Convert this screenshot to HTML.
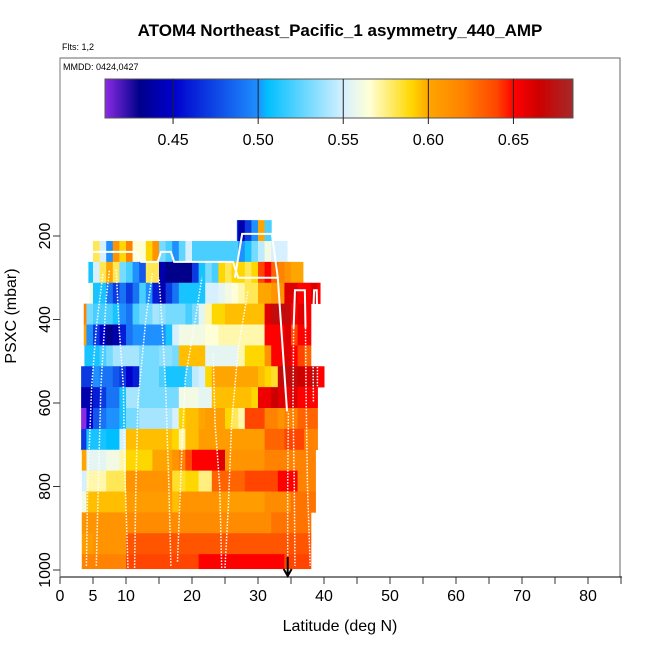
<!DOCTYPE html>
<html><head><meta charset="utf-8"><style>
body{margin:0;background:#fff}
svg{display:block;font-family:"Liberation Sans",sans-serif}
</style></head><body>
<svg id="chart" width="650" height="650" viewBox="0 0 650 650" xmlns="http://www.w3.org/2000/svg">
<text x="340" y="36" text-anchor="middle" font-size="17" font-weight="bold">ATOM4 Northeast_Pacific_1 asymmetry_440_AMP</text>
<text x="62" y="50" font-size="9">Flts: 1,2</text>
<rect x="60" y="58" width="560" height="519" fill="none" stroke="#666" stroke-width="1"/>
<text x="63" y="70" font-size="9">MMDD: 0424,0427</text>
<g id="legend"></g>
<g id="cells"></g>
<g id="paths"></g>
<g id="axes"></g>
<text x="340" y="631" text-anchor="middle" font-size="16">Latitude (deg N)</text>
<text transform="translate(16,316) rotate(-90)" text-anchor="middle" font-size="16">PSXC (mbar)</text>
</svg>
<script>
const xTicks=[0,5,10,15,20,25,30,35,40,45,50,55,60,65,70,75,80,85];
const xLabels=[0,5,10,20,30,40,50,60,70,80];
const yLabels=[200,400,600,800,1000];
const legendTicks=[0.45,0.50,0.55,0.60,0.65];
const rowTop=[162,212,262,312,362,412,462,512,562,612,662,712,762,812,862,912,962];
const rowStart=[26.8,5.0,4.3,4.5,3.6,3.6,3.7,3.2,3.2,3.2,3.2,3.3,3.3,3.3,3.3,3.3,3.3];
const rowEnd=[32.3,34.4,36.8,39.4,39.4,39.4,39.4,40,39.4,39.4,39.4,38.7,38.7,38.7,38.1,38.1,38.1];
const rowVals=[
[0.47,0.44,0.47,0.50,0.60,0.52],
[0.58,0.55,0.50,0.61,0.59,0.62,0.565,0.565,0.59,0.61,0.53,0.52,0.50,0.525,0.55,0.52,0.52,0.52,0.52,0.52,0.52,0.52,0.50,0.51,0.53,0.545,0.56,0.55,0.55,0.55],
[0.51,0.55,0.58,0.60,0.58,0.53,0.52,0.50,0.48,0.58,0.58,0.44,0.43,0.43,0.43,0.43,0.47,0.51,0.53,0.52,0.59,0.58,0.59,0.59,0.58,0.59,0.64,0.65,0.63,0.62,0.61,0.60,0.60],
[0.56,0.51,0.51,0.49,0.47,0.49,0.47,0.49,0.52,0.50,0.46,0.44,0.47,0.49,0.51,0.51,0.51,0.51,0.55,0.55,0.555,0.56,0.565,0.57,0.58,0.58,0.60,0.60,0.61,0.61,0.66,0.66,0.65,0.65,0.66,0.65],
[0.62,0.53,0.52,0.52,0.52,0.51,0.50,0.49,0.52,0.53,0.53,0.54,0.535,0.53,0.53,0.53,0.52,0.53,0.555,0.57,0.59,0.59,0.595,0.595,0.595,0.595,0.595,0.595,0.66,0.67,0.67,0.67,0.65,0.66,0.65],
[0.60,0.50,0.47,0.45,0.43,0.44,0.46,0.49,0.50,0.50,0.50,0.50,0.50,0.51,0.55,0.56,0.56,0.56,0.56,0.565,0.565,0.57,0.57,0.57,0.57,0.57,0.57,0.57,0.65,0.65,0.65,0.66,0.64,0.65,0.65],
[0.51,0.51,0.51,0.52,0.53,0.54,0.54,0.54,0.54,0.53,0.53,0.53,0.535,0.535,0.53,0.595,0.595,0.595,0.595,0.555,0.555,0.555,0.555,0.555,0.57,0.59,0.59,0.59,0.61,0.65,0.65,0.66,0.65,0.64,0.63],
[0.47,0.47,0.50,0.49,0.49,0.48,0.47,0.45,0.46,0.53,0.53,0.53,0.52,0.51,0.51,0.51,0.52,0.545,0.55,0.59,0.60,0.60,0.60,0.60,0.60,0.60,0.60,0.595,0.59,0.585,0.67,0.67,0.67,0.665,0.66,0.67,0.65],
[0.44,0.44,0.46,0.47,0.49,0.49,0.51,0.54,0.54,0.53,0.53,0.53,0.53,0.53,0.53,0.56,0.56,0.56,0.555,0.555,0.595,0.595,0.595,0.595,0.595,0.595,0.59,0.655,0.655,0.665,0.66,0.655,0.66,0.65,0.65,0.65],
[0.41,0.45,0.48,0.49,0.50,0.50,0.51,0.53,0.53,0.54,0.54,0.54,0.54,0.54,0.55,0.59,0.595,0.595,0.60,0.605,0.605,0.605,0.59,0.58,0.57,0.64,0.64,0.64,0.62,0.62,0.61,0.62,0.62,0.63,0.63,0.63],
[0.47,0.51,0.51,0.51,0.505,0.505,0.55,0.595,0.595,0.595,0.595,0.595,0.595,0.595,0.59,0.57,0.595,0.595,0.605,0.605,0.605,0.605,0.605,0.605,0.605,0.605,0.605,0.605,0.63,0.63,0.63,0.64,0.64,0.64,0.62,0.62],
[0.60,0.555,0.555,0.555,0.56,0.56,0.57,0.59,0.59,0.59,0.59,0.60,0.60,0.60,0.61,0.62,0.64,0.65,0.65,0.65,0.65,0.66,0.61,0.61,0.61,0.61,0.61,0.61,0.62,0.62,0.62,0.62,0.62,0.62,0.62,0.62],
[0.55,0.57,0.57,0.57,0.58,0.58,0.58,0.61,0.61,0.61,0.61,0.61,0.61,0.61,0.585,0.585,0.59,0.59,0.575,0.575,0.63,0.63,0.63,0.63,0.63,0.64,0.64,0.64,0.64,0.64,0.65,0.65,0.65,0.62,0.62,0.62],
[0.56,0.595,0.595,0.595,0.595,0.595,0.595,0.605,0.605,0.605,0.605,0.605,0.605,0.605,0.595,0.61,0.61,0.61,0.61,0.61,0.61,0.605,0.605,0.605,0.605,0.605,0.605,0.605,0.615,0.615,0.615,0.615,0.625,0.625,0.625,0.625],
[0.61,0.61,0.61,0.61,0.61,0.61,0.61,0.615,0.615,0.615,0.615,0.615,0.615,0.615,0.615,0.615,0.615,0.615,0.615,0.615,0.615,0.615,0.615,0.615,0.615,0.615,0.615,0.615,0.615,0.625,0.625,0.625,0.625,0.625,0.625],
[0.605,0.605,0.61,0.61,0.61,0.61,0.61,0.635,0.635,0.635,0.635,0.635,0.635,0.635,0.635,0.635,0.635,0.635,0.635,0.635,0.635,0.635,0.635,0.635,0.635,0.635,0.635,0.635,0.635,0.635,0.635,0.635,0.635,0.635,0.635],
[0.62,0.62,0.62,0.62,0.62,0.62,0.62,0.64,0.64,0.64,0.64,0.64,0.64,0.64,0.64,0.64,0.64,0.64,0.65,0.65,0.65,0.65,0.65,0.65,0.65,0.65,0.65,0.65,0.65,0.65,0.65,0.64,0.64,0.64,0.64]
];
const rowHeight=50;
const solidPath=[[5,238],[11.5,238],[12.3,262],[14.8,262],[15.3,238],[16.8,238],[17.3,262],[25.5,262],[26.2,262],[27,300],[33,300],[34.4,620]];
const solidPath2=[[26.5,300],[27.6,195],[32.1,195],[33,300]];
const solidHat1=[[35.4,420],[35.6,330],[37.1,330],[37.2,420]];
const solidHat2=[[38.3,420],[38.5,330],[38.9,330],[39,420]];
const dotted=[
[[4,990],[4.2,800],[4.8,560],[5.5,420],[6.5,290]],
[[5.5,990],[5.8,800],[6.2,560],[7,350],[7.5,280]],
[[10.3,995],[9.8,750],[9.6,560],[9,430],[8.5,280]],
[[11.3,995],[11.5,800],[11.8,600],[13,400],[14,290]],
[[16.8,990],[16.5,800],[16,560],[15.5,420],[15,300]],
[[17.8,980],[18.5,700],[19,540],[20.5,400],[21.5,300]],
[[24.5,995],[24.2,800],[23.5,650],[23.2,480]],
[[25,995],[25.5,850],[26,650],[27,470],[28.5,330]],
[[34.5,980],[34.5,800],[34.6,620]],
[[35.4,420],[35.3,600],[35.5,800],[35.6,990]],
[[37.2,420],[37.3,600],[37.5,800],[37.9,990]],
[[38.3,420],[38.4,600]],
[[39,420],[39,560]]
];
const arrowLat=34.5;
const vMin=0.41,vMax=0.685;
const stops=[[0.41,[138,43,226]],[0.43,[0,0,139]],[0.45,[0,0,205]],[0.50,[30,144,255]],[0.505,[0,191,255]],[0.55,[215,240,255]],[0.565,[255,255,215]],[0.59,[255,215,0]],[0.60,[255,165,0]],[0.62,[255,130,0]],[0.64,[255,69,0]],[0.65,[255,0,0]],[0.665,[205,0,0]],[0.685,[165,42,42]]];
function color(v){
  if(v<=stops[0][0])return 'rgb('+stops[0][1]+')';
  for(let i=1;i<stops.length;i++){if(v<=stops[i][0]){const a=stops[i-1],b=stops[i],t=(v-a[0])/(b[0]-a[0]);
    return 'rgb('+a[1].map((c,k)=>Math.round(c+(b[1][k]-c)*t)).join(',')+')';}}
  return 'rgb('+stops[stops.length-1][1]+')';
}
const xs=lat=>60+lat*6.6;
const ys=p=>236+(p-200)*0.4175;
const NS='http://www.w3.org/2000/svg';
function mk(tag,attrs,parent){const e=document.createElementNS(NS,tag);for(const k in attrs)e.setAttribute(k,attrs[k]);parent.appendChild(e);return e;}
const lg=document.getElementById('legend');
const lx=v=>105+(v-vMin)/(vMax-vMin)*468;
for(let px=105;px<573;px++){const v=vMin+(px-105)/468*(vMax-vMin);
  const r=mk('rect',{x:px,y:79,width:1.2,height:39,fill:color(v)},lg);
  
  }
const lb=mk('rect',{x:105,y:79,width:468,height:39,fill:'none',stroke:'#555'},lg);


legendTicks.forEach(t=>{
  const l=mk('line',{x1:lx(t),x2:lx(t),y1:79,y2:124,stroke:'#222'},lg);
  
  
  const tx=mk('text',{x:lx(t),y:145,'text-anchor':'middle','font-size':16},lg);tx.textContent=t.toFixed(2);
  
  
});
const cg=document.getElementById('cells');
rowVals.forEach((vals,i)=>{
  const y0=ys(rowTop[i]),y1=ys(Math.min(rowTop[i]+rowHeight,997));
  let s=rowStart[i];
  vals.forEach((v,j)=>{
    const a=j===0?s:Math.floor(s)+j, b=Math.min(Math.floor(s)+j+1,rowEnd[i]);
    if(b<=a)return;
    const r=mk('rect',{x:xs(a),y:y0,width:xs(b)-xs(a)+0.5,height:y1-y0+0.3,fill:color(v)},cg);
    
    
  });
});
const pg=document.getElementById('paths');
const pts=a=>a.map(p=>xs(p[0])+','+ys(p[1])).join(' ');
[solidPath,solidPath2,solidHat1,solidHat2].forEach(sp=>{
  const l=mk('polyline',{points:pts(sp),fill:'none',stroke:'#fff','stroke-width':2},pg);
  
  
});
dotted.forEach(d=>{
  const l=mk('polyline',{points:pts(d),fill:'none',stroke:'#fff','stroke-width':1.5,'stroke-dasharray':'1.5,1.5'},pg);
  
  
});
const ar=mk('path',{d:`M${xs(arrowLat)},557 L${xs(arrowLat)},576 M${xs(arrowLat)-4},569 L${xs(arrowLat)},576 L${xs(arrowLat)+4},569`,stroke:'#000','stroke-width':2,fill:'none'},pg);


const ag=document.getElementById('axes');
const xa=mk('line',{x1:60,x2:622,y1:577,y2:577,stroke:'#000'},ag);


const ya=mk('line',{x1:60,x2:60,y1:58,y2:577,stroke:'#777'},ag);


xTicks.forEach(t=>{
  const l=mk('line',{x1:xs(t),x2:xs(t),y1:577,y2:584,stroke:'#333'},ag);
  
  
});
xLabels.forEach(t=>{
  const tx=mk('text',{x:xs(t),y:601,'text-anchor':'middle','font-size':16},ag);tx.textContent=t;
  
  
});
yLabels.forEach(t=>{
  const l=mk('line',{x1:53,x2:60,y1:ys(t),y2:ys(t),stroke:'#333'},ag);
  
  
  const tx=mk('text',{transform:`translate(50,${ys(t)}) rotate(-90)`,'text-anchor':'middle','font-size':16},ag);tx.textContent=t;
  
  
});
</script>
</body></html>
